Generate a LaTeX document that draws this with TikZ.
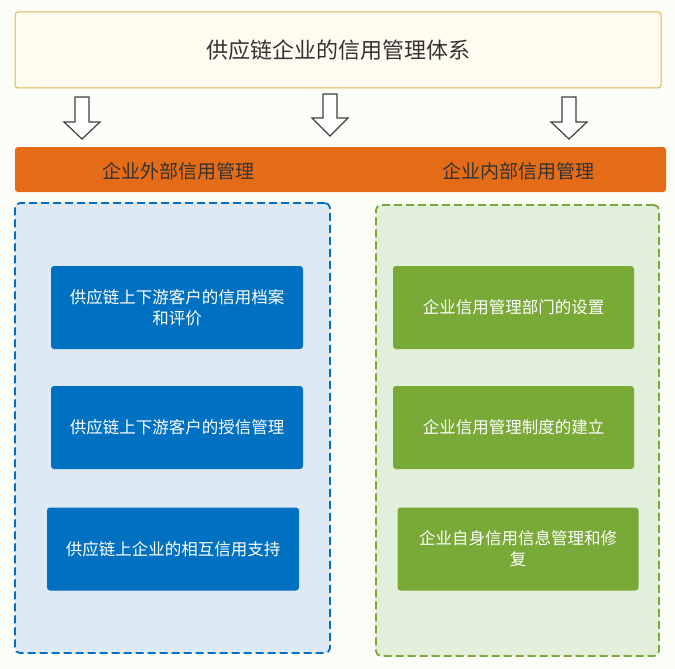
\documentclass[tikz,border=0pt]{standalone}
\usepackage{fontspec}
\newfontfamily\cjk{Noto Sans CJK SC}
\usetikzlibrary{positioning}
\definecolor{pagebg}{HTML}{FDFDF8}
\definecolor{topfill}{HTML}{FFFBEF}
\definecolor{topline}{HTML}{D6B655}
\definecolor{barorange}{HTML}{E46C17}
\definecolor{outerblue}{HTML}{0070C0}
\definecolor{outerfill}{HTML}{DDEAF6}
\definecolor{innergreen}{HTML}{79A937}
\definecolor{innerfill}{HTML}{E2EFDA}
\definecolor{arrowline}{HTML}{404040}
\definecolor{titletext}{HTML}{333333}

\begin{document}
\begin{tikzpicture}[x=1pt,y=1pt]
\tikzset{
    topbox/.style={draw=topline, line width=1pt, fill=topfill, rounded corners=3pt,
        minimum width=646pt, minimum height=76pt, inner sep=0pt},
    barlabel/.style={text=black!80, font=\cjk\fontsize{19}{23}\selectfont},
    outerbox/.style={draw=outerblue, fill=outerfill, line width=1.8pt,
        dash pattern=on 8pt off 4pt, rounded corners=5pt,
        minimum width=315pt, minimum height=450pt},
    innerbox/.style={draw=innergreen, fill=innerfill, line width=1.8pt,
        dash pattern=on 8pt off 4pt, rounded corners=5pt,
        minimum width=283pt, minimum height=451pt},
    bluebox/.style={fill=outerblue, rounded corners=3pt, text=white, align=center,
        minimum width=252pt, minimum height=83pt,
        font=\cjk\fontsize{16.5}{21}\selectfont},
    greenbox/.style={bluebox, fill=innergreen, minimum width=241pt},
    hollowarrow/.style={draw=arrowline, fill=white, line width=1.2pt, line join=miter},
}

  % page and margins
  \fill[pagebg] (0,0) rectangle (675,-669);
  \useasboundingbox (0,0) rectangle (675,-669);

  % system title
  \node[topbox, text=titletext, font=\cjk\fontsize{22}{26}\selectfont] (top) at (338,-50)
      {供应链企业的信用管理体系};

  % block arrows: centre x, top y, head y, tip y
  \foreach \ax/\ay/\ah/\at in {82/97/122/139, 330/94/118/136, 569/97/122/139}{
    \draw[hollowarrow] (\ax-7,-\ay) -- (\ax+7,-\ay) -- (\ax+7,-\ah) -- (\ax+18,-\ah)
        -- (\ax,-\at) -- (\ax-18,-\ah) -- (\ax-7,-\ah) -- cycle;
  }

  % orange bar
  \node[fill=barorange, rounded corners=3pt, minimum width=651pt, minimum height=45pt,
      inner sep=0pt] (bar) at (340.5,-169.5) {};
  \node[barlabel] (outerlabel) at (178,-171) {企业外部信用管理};
  \node[barlabel] (innerlabel) at (518,-171) {企业内部信用管理};

  % containers
  \node[outerbox] (outer) at (172.5,-428) {};
  \node[innerbox] (inner) at (517.5,-430.5) {};

  % external credit management
  \node[bluebox] (outerA) at (177,-307.5) {供应链上下游客户的信用档案\\和评价};
  \node[bluebox] (outerB) at (177,-427.5) {供应链上下游客户的授信管理};
  \node[bluebox] (outerC) at (173,-549) {供应链上企业的相互信用支持};

  % internal credit management
  \node[greenbox] (innerA) at (513.5,-307.5) {企业信用管理部门的设置};
  \node[greenbox] (innerB) at (513.5,-427.5) {企业信用管理制度的建立};
  \node[greenbox] (innerC) at (518,-549) {企业自身信用信息管理和修\\复};

\end{tikzpicture}
\end{document}
